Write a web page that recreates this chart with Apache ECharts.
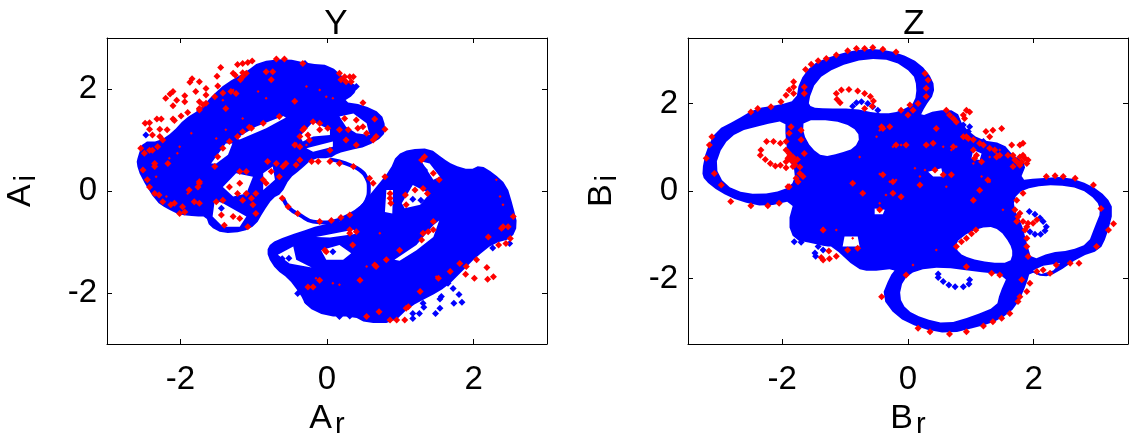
<!DOCTYPE html>
<html>
<head>
<meta charset="utf-8">
<style>
  html, body { margin: 0; background: #fff; }
  main { width: 1135px; height: 446px; }
</style>
<script src="https://cdn.jsdelivr.net/npm/echarts@6/dist/echarts.min.js"></script>
</head>
<body>
<main></main>
<script>
const ticksY = [-2, 0, 2]
const ticksZ = [-2, 0, 2]

// dense blue regions of Y, outlines
const blueYUpper = [[-2.58,.67],[-2.51,.97],[-2.29,.97],[-2.10,1.16],[-1.94,1.42],[-1.74,1.59],[-1.56,1.88],[-1.38,2.11],[-1.10,2.34],[-.92,2.54],[-.56,2.60],[-.24,2.50],[.04,2.47],[.26,2.18],[.42,2.05],[.36,1.88],[.22,1.75],[.49,1.69],[.74,1.52],[.80,1.26],[.77,1.07],[.54,.87],[.31,.80],[.15,.74],[.04,.64],[-.19,.64],[-.37,.41],[-.51,.25],[-.62,-.05],[-.74,-.14],[-.87,-.41],[-.97,-.67],[-1.15,-.80],[-1.42,-.83],[-1.60,-.70],[-1.65,-.50],[-1.79,-.50],[-2.01,-.47],[-2.19,-.34],[-2.33,-.21],[-2.54,.28],[-2.60,.54]]
const holesYUpper = [
  [[-1.24,1.03],[-.97,1.26],[-.60,1.47],[-.56,1.44],[-.83,1.23],[-1.19,1.01]],
  [[-1.58,.54],[-1.38,.93],[-1.29,.93],[-1.35,.71],[-1.51,.54]],
  [[-.37,1.07],[-.19,1.36],[.04,1.20],[.04,1.10],[-.19,1.07],[-.33,.97]],
  [[.17,1.46],[.36,1.52],[.54,1.33],[.58,1.10],[.40,1.13],[.26,1.26]],
  [[-.28,.84],[.08,.97],[.08,.87],[-.19,.77]],
  [[-1.53,-.18],[-1.42,-.24],[-1.10,-.50],[-1.19,-.70],[-1.42,-.70],[-1.56,-.50]],
  [[-1.42,.08],[-1.24,.35],[-1.01,.28],[-1.10,-.05],[-1.28,-.11]],
  [[-.87,.35],[-.74,.48],[-.71,.22],[-.87,.02]],
]
const blueYLower = [[-.81,-1.09],[-.69,-.96],[-.37,-.80],[-.10,-.67],[.26,-.57],[.49,-.24],[.67,.08],[.86,.41],[.95,.71],[1.13,.82],[1.40,.84],[1.58,.64],[1.72,.51],[1.95,.41],[2.09,.51],[2.27,.35],[2.45,.12],[2.54,-.31],[2.60,-.67],[2.52,-.93],[2.27,-1.03],[2.04,-1.29],[1.86,-1.55],[1.63,-1.88],[1.40,-2.07],[1.13,-2.27],[.90,-2.59],[.54,-2.59],[.36,-2.46],[-.01,-2.46],[-.28,-2.27],[-.37,-2.01],[-.53,-1.71],[-.69,-1.55],[-.81,-1.29]]
const holesYLower = [
  [[-.67,-1.25],[-.46,-1.09],[-.42,-1.35],[-.21,-1.50],[-.51,-1.42]],
  [[-.08,-1.16],[.17,-1.06],[.33,-1.22],[.22,-1.35],[-.01,-1.35]],
  [[-.15,-.90],[.36,-.76],[.40,-.84],[.04,-.91]],
  [[.81,.02],[.90,.02],[.89,-.44],[.79,-.41]],
  [[1.02,-.24],[1.17,.12],[1.40,-.05],[1.27,-.27],[1.06,-.34]],
  [[1.29,.58],[1.40,.54],[1.54,.28],[1.45,.22]],
  [[.92,-1.35],[1.22,-1.06],[1.45,-.67],[1.53,-.58],[1.45,-.90],[1.22,-1.16],[.99,-1.37]],
]
const ringY = [[.04,.62],[.17,.58],[.31,.51],[.45,.41],[.54,.25],[.57,.05],[.54,-.18],[.45,-.34],[.31,-.47],[.15,-.57],[-.01,-.62],[-.19,-.60],[-.37,-.47],[-.51,-.34],[-.60,-.14]]

const redY = [[-1.45,2.42],[-1.50,2.25],[-1.84,2.20],[-1.87,2.13],[-1.74,2.14],[-1.49,2.06],[-1.65,2.01],[-1.79,1.95],[-2.10,1.95],[-2.14,1.90],[-2.20,1.82],[-2.05,1.78],[-1.94,1.87],[-1.94,1.75],[-2.10,1.67],[-1.65,1.88],[-1.74,1.75],[-1.90,1.54],[-1.99,1.47],[-2.10,1.41],[-2.32,1.41],[-2.26,1.41],[-2.48,1.33],[-2.42,1.34],[-2.42,1.21],[-2.28,1.21],[-2.18,1.20],[-2.08,1.38],[-2.38,1.10],[-2.28,1.07],[-2.54,.84],[-2.24,1.00],
  [-1.22,2.48],[-1.15,2.50],[-1.08,2.52],[-1.02,2.55],[-1.15,2.32],[-1.25,2.27],[-1.18,2.18],[-1.10,2.31],[-.69,2.59],[-.58,2.59],[-.33,2.50],[.17,2.31],[.24,2.24],[.31,2.24],[.36,2.24],[.26,2.14],[.19,2.18],[.33,2.14],
  [-.83,2.34],[-.74,2.34],[-.76,2.18],[-.44,1.76],[-1.24,1.91],[-1.38,1.62],[-1.74,1.62],[-1.69,1.69],
  [.49,1.73],[.65,1.41],[.79,1.21],[.67,1.07],[.40,1.39],[.49,1.26],[.42,1.23],[.24,1.42],[.40,.90],[.26,1.00],
  [-.31,1.23],[-.26,1.10],[-.19,1.36],[-.10,1.33],[.01,1.23],[-.37,1.07],[-1.06,1.25],[-1.15,1.16],
  [-2.35,.48],[-1.74,.15],[-1.88,.02],[-1.74,-.24],[-2.42,.08],[-2.29,-.08],[-2.13,-.27],[-2.01,-.44],[-1.94,-.41],[-2.17,.54],[-2.38,.80],
  [-1.19,.38],[-1.10,.38],[-1.33,.08],[-1.19,.15],[-1.10,-.05],[-1.22,-.05],[-.81,.58],[-.69,.54],[-.87,.22],[-.76,.38],[-.60,.48],[-.42,.51],
  [-1.51,-.21],[-1.44,-.47],[-1.40,-.67],[-1.19,-.54],[-1.08,-.70],[-1.01,-.27],[-.97,-.44],
  [.36,.48],[.17,.54],[.04,.58],[-.12,.58],[.58,.25],[.63,.15],[.79,.28],[-.10,-.60],[.06,-.58],[.19,-.52],[-.40,-.44],[-.53,-.31],[-.61,-.14],[.31,-.47],[-.21,.58],
  [2.18,-1.50],[2.01,-1.71],[2.19,-1.73],[2.27,-1.68],[1.89,-1.63],[2.34,-1.06],[2.44,-1.03],[2.50,-.93],[2.38,-.73],[2.47,-.70],[2.20,-.90],[1.53,.22],[1.45,.35],[1.33,.67],[1.29,.61],[.86,-.14],[.86,-.05],[.87,-.24],[1.07,-.08],[1.20,.02],[1.31,.05],[1.37,-.05],[1.08,-.27],[1.45,-.76],[1.38,-.80],[1.29,-.96],[.31,-.83],[.40,-.80],[-.03,-1.16],[.35,-1.06],[.65,-1.45],[.45,-1.75],[-.19,-1.88],[1.68,-1.58],[1.52,-1.71],[1.27,-1.97],[1.08,-2.30],[1.06,-2.53],[.95,-2.53],[.71,-2.37],
  [-2.49,.74],[-2.42,.80],[-2.31,.87],[-2.35,.54],[-2.51,.41],[-2.45,.22],[-2.35,-.05],[-2.24,-.21],[-2.08,-.24],[-1.97,-.31],[-1.74,.18],[-1.76,.08],[-1.81,-.21],[-1.53,.48],[-1.49,.67],[-1.42,.84],[-1.33,.97],[-1.22,1.07],[-1.03,1.23],[-.87,1.33],[-.65,1.46],[-1.74,1.59],[-1.65,1.72],[-1.53,1.85],[-1.42,1.92],[-1.31,1.95],[-1.15,2.24],[-1.28,2.31],
  [-.33,1.20],[-.10,1.20],[-.24,1.00],[-.37,.87],[-.44,.90],[.04,.80],[.17,1.20],[.29,1.20],[.54,1.13],[.63,1.00],
  [-1.42,-.18],[-1.28,-.50],[-1.15,-.18],[-1.03,-.14],[-.97,-.05],[-.83,.15],[-.65,.28],[-.56,.54],[-.37,.61],
  [2.54,-.50],[2.40,-.70],[1.31,-.83],[1.45,-.60],[.99,-1.16],[-.01,-1.19],[.31,-.76],[-.26,-1.88],[-.10,-1.75],[2.04,-1.35],[1.90,-1.48],[1.81,-1.42],[.67,-1.48],[.81,-1.35],[.54,-2.46],[.86,-2.53],[1.11,-2.27]]
const redSpecksY = [[-.94,1.95],[-.83,1.82],[-1.51,1.03],[-1.38,1.20],[-1.15,1.42],[-1.74,.15],[-2.15,.64],[-2.01,.87],[-.42,.93],[-.28,.90],[-2.04,.74],[-1.85,1.13],[-2.33,.28],[-2.19,-.11],[-1.90,-.05],[-1.28,1.98],[-1.42,1.78],[-.10,1.98],[-.28,2.05],[.08,1.82],[-.01,1.85],[2.36,-.11],[2.40,-.27],[2.31,.22],[.17,-1.84],[.08,-1.81],[-.15,-1.71],[1.49,-1.68],[.54,-1.48],[.72,-.83]]
const bluePointsY = [[1.72,-1.91],[1.80,-2.03],[1.73,-2.20],[1.84,-2.18],[1.56,-2.07],[1.54,-2.12],[1.54,-2.30],[1.48,-2.40],[1.32,-2.28],[1.31,-2.20],[1.26,-2.40],[1.17,-2.40],[1.17,-2.50],[1.65,-1.81],[-.61,-1.33],[-.52,-1.32],[.08,-1.19],[1.17,-.16],[1.28,-.18],[1.33,.41],[-.40,-2.01],[-.27,-2.17],[.17,-2.46],[.31,-2.45],[-1.44,-.34],[-2.47,1.10],[-2.50,.86],[.40,2.05],[-.30,2.50],[.66,1.29],[2.26,-1.12],[2.49,-1.03]]

// Z: one connected blue shape with the loop openings as holes
const blueZ = [[-3.28,.44],[-3.21,.94],[-3.05,1.39],[-2.74,1.62],[-2.42,1.89],[-2.05,1.97],[-1.78,2.08],[-1.73,2.50],[-1.54,2.88],[-1.25,3.07],[-.88,3.22],[-.50,3.26],[-.13,3.15],[.19,2.92],[.40,2.54],[.42,2.23],[.27,1.93],[.19,1.70],[.45,1.85],[.77,1.85],[.88,1.47],[1.14,1.17],[1.51,1.09],[1.67,.82],[1.89,.63],[1.78,.25],[2.05,.29],[2.52,.33],[2.90,.14],[3.16,-.13],[3.27,-.43],[3.16,-1.04],[3.05,-1.35],[2.74,-1.50],[2.36,-1.88],[2.15,-1.97],[1.94,-1.84],[1.89,-2.11],[1.73,-2.64],[1.46,-2.95],[1.14,-3.10],[.66,-3.27],[.19,-3.14],[-.19,-2.87],[-.42,-2.42],[-.29,-1.96],[-.19,-1.77],[-.61,-1.84],[-.82,-1.77],[-1.20,-1.27],[-1.30,-1.27],[-1.51,-1.20],[-1.81,-1.12],[-1.91,-.74],[-1.81,-.21],[-2.26,-.36],[-2.68,-.24],[-3.00,-.02],[-3.24,.25]]
const holesZ = [
  [[-3.07,.56],[-2.95,1.05],[-2.71,1.36],[-2.31,1.51],[-1.95,1.62],[-1.95,1.24],[-1.91,.78],[-1.78,.40],[-1.86,.10],[-2.15,-.05],[-2.58,-.07],[-2.92,.14]],
  [[-1.66,1.62],[-1.20,1.62],[-.88,1.47],[-.76,1.24],[-.85,.98],[-1.09,.86],[-1.35,.78],[-1.54,.98],[-1.67,1.32]],
  [[-1.59,2.04],[-1.46,2.54],[-1.14,2.84],[-.66,3.03],[-.24,2.99],[.08,2.69],[.14,2.38],[.11,2.04],[-.03,1.89],[-.24,1.78],[-.50,1.78],[-.88,1.89],[-1.30,1.89],[-1.54,1.91]],
  [[1.73,-.05],[1.99,.10],[2.36,.14],[2.74,.06],[3.00,-.21],[3.07,-.47],[2.97,-.82],[2.87,-1.20],[2.58,-1.36],[2.26,-1.41],[1.97,-1.58],[1.89,-1.20],[1.81,-.74],[1.67,-.36]],
  [[.74,-1.20],[.98,-.93],[1.27,-.80],[1.46,-.89],[1.62,-1.20],[1.67,-1.42],[1.62,-1.64],[1.30,-1.64],[.98,-1.54],[.81,-1.42]],
  [[-.14,-2.42],[-.08,-2.03],[.13,-1.81],[.56,-1.74],[1.04,-1.84],[1.59,-1.92],[1.46,-2.34],[1.41,-2.64],[1.04,-2.86],[.61,-3.04],[.24,-2.91],[-.03,-2.72]],
  [[1.99,-1.82],[2.15,-1.71],[2.42,-1.65],[2.31,-1.82],[2.12,-1.90]],
  [[-.53,-.40],[-.37,-.43],[-.40,-.53],[-.53,-.53]],
  [[.32,.44],[.53,.52],[.56,.33],[.40,.33]],
  [[-1.01,-1.04],[-.80,-1.04],[-.77,-1.27],[-1.04,-1.27]],
  [[1.04,.94],[1.17,.86],[1.14,.71],[1.01,.75]],
]

const redZ = [[-2.34,.94],[-2.25,1.13],[-2.14,1.13],[-2.03,1.09],[-2.35,.82],[-2.27,.72],[-2.19,.63],[-2.11,.57],[-2.03,.59],
  [-1.94,1.13],[-1.94,.94],[-1.89,.86],[-1.83,.78],[-1.91,.75],[-1.81,.67],[-1.94,.67],[-1.83,.56],[-1.72,.40],[-1.78,.29],[-1.67,.33],[-1.75,.21],[-1.89,.10],[-1.94,.53],[-1.86,1.47],[-1.89,1.32],[-1.70,1.39],[-1.70,1.17],[-1.65,.86],[-1.88,.80],[-1.86,.70],[-1.80,.60],[-1.76,.72],[-1.72,.55],
  [-1.14,2.23],[-1.06,2.31],[-.94,2.32],[-.80,2.29],[-.69,2.23],[-.60,2.16],[-.55,2.06],[-1.13,2.10],[-1.08,2.02],[-.69,1.89],[-.57,1.94],
  [-1.63,2.78],[-1.54,2.90],[-1.43,2.98],[-1.30,3.03],[-1.14,3.11],[-.96,3.21],[-.82,3.26],[-.69,3.26],[-.56,3.28],[-.40,3.24],[-.19,3.18],[-1.82,2.50],[-1.82,2.38],[-1.89,2.31],[-1.94,2.19],[-1.82,2.23],[-2.02,2.04],[-1.65,2.38],[-1.65,2.23],
  [.32,2.54],[.27,2.69],[.29,2.35],[.29,2.16],[.16,2.00],[.03,1.97],[.00,1.74],[-.11,1.85],[.08,1.85],[-.29,1.47],[-.42,1.47],
  [-2.50,1.81],[-2.39,1.89],[-2.18,1.93],[-3.12,1.24],[-3.16,1.05],[-3.21,.75],[-3.08,.40],[-2.97,.14],[-2.82,-.24],[-2.50,-.34],[-2.23,-.34],[-2.05,-.28],[-1.91,.10],
  [.61,1.85],[.72,1.66],[.77,1.58],[.93,1.85],[.98,1.81],[.88,1.74],[.90,1.66],[.88,1.24],[.96,1.20],[1.04,.94],[1.09,.82],[1.24,1.36],[1.35,1.39],[1.49,1.43],[1.30,1.24],[1.20,1.05],[1.38,.94],[1.46,.82],[1.65,1.05],[1.78,1.05],[1.83,1.09],[1.67,.82],[1.78,.78],[1.86,.75],[1.91,.71],[1.89,.63],[1.81,.67],[1.73,.67],[.45,1.43],[.29,1.05],[.40,1.09],[.72,1.01],[1.06,.75],[1.27,.25],[1.14,.02],[1.04,-.21],[-.40,.37],[-.24,.21],[-.19,1.05],[-.03,1.05],[.19,.14],[.43,.48],[.56,.37],[.69,.37],[-.40,1.43],[-.45,-.43],[-.24,-.05],[-.11,-.13],[-.72,-.05],[-.88,.18],
  [.66,1.74],[.93,1.24],[1.04,1.17],[1.14,1.09],[1.30,.98],[1.41,.78],[1.17,.67],[1.78,.59],[1.67,.56],[1.83,.82],[1.70,.71],[1.59,.82],
  [2.20,.33],[2.34,.35],[2.47,.33],[2.66,.29],[2.95,.14],[3.07,-.40],[3.27,-.75],[3.19,-.89],[3.00,-1.27],[1.73,-.21],[1.83,-.05],[1.70,-.43],[1.75,-.59],[1.83,-.70],[1.91,-.74],[1.86,-.89],[1.89,-1.08],[1.99,-.74],[2.05,-.66],[1.89,-1.27],[1.91,-1.50],[1.78,-.51],[1.73,-.70],[1.89,-.82],
  [2.15,-1.81],[2.36,-1.69],[2.05,-1.84],[2.26,-1.88],[2.58,-1.65],[2.72,-1.65],[1.81,-2.03],[1.94,-2.11],[1.89,-2.30],[1.78,-2.42],[1.75,-2.53],[1.62,-2.80],[1.49,-2.91],[1.35,-2.99],[1.20,-3.09],[.93,-3.22],[.66,-3.27],[.35,-3.22],[.16,-3.14],[-.42,-2.42],
  [.77,-1.27],[.85,-1.16],[.93,-1.08],[1.01,-.98],[1.08,-.89],
  [-1.35,-1.58],[-1.38,-1.52],[-1.25,-1.55],[-1.14,-1.49],[-1.26,-1.37],[-1.35,-.89],[-.96,-1.35],[-.80,-1.31],
  [.93,-1.73],[1.33,-1.88],[1.46,-1.92],[-.03,-1.92]]
const redSpecksZ = [[-.45,.39],[-.39,.39],[-.29,.21],[-.19,.25],[-.11,1.05],[-.24,1.01],[-.50,1.24],[-.45,1.39],[-.29,1.47],[.11,.52],[.19,.33],[.27,.48],[.32,1.05],[.45,1.43],[.56,1.01],[.69,.94],[.77,1.01],[1.04,.63],[1.17,.33],[1.30,.21],[1.30,.78],[1.41,.86],[1.46,.94],[.61,.10],[-.35,-.09],[-.11,-.13],[1.06,-.21],[1.51,-.43],[-1.35,-.85],[-1.14,-.89],[-.88,-1.08],[-.45,-.28],[-.77,.78],[.45,-1.35],[.93,-1.73],[.08,-1.69]]
const bluePointsZ = [[-.82,2.02],[-.74,2.04],[-.64,2.00],[-.56,1.93],[-.48,1.85],[-.88,1.94],
  [.48,-1.90],[.48,-1.98],[.56,-2.07],[.65,-2.15],[.75,-2.19],[.88,-2.19],[.97,-2.13],[.98,-2.03],
  [1.93,-.47],[2.02,-.53],[2.10,-.62],[2.15,-.70],[2.20,-.82],[2.18,-.91],[2.11,-.99],[2.02,-.99],[1.94,-.93],
  [-1.81,-.89],[-1.65,-.99],[-1.73,-1.06],[-1.81,-1.16],[-1.70,-1.17],[-1.51,-1.10],[-1.38,-1.16],[-1.43,-1.27],[-1.35,-1.35],[-1.48,-1.42],[-1.47,-1.49],[-.77,-1.65],
  [.88,1.51],[.98,1.47],[.96,1.36],[1.20,1.13]]

const font = 'Liberation Sans'
const BLUE = '#0000ff'
const RED = '#ff0000'

function area(ring) {
  let s = 0
  ring.forEach((p, i) => {
    const q = ring[(i + 1) % ring.length]
    s += p[0] * q[1] - q[0] * p[1]
  })
  return s
}

// corner cutting for the drawn outline, same job as smooth: true on a line
function rounded(ring) {
  if (ring.length < 9) return ring
  const out = []
  ring.forEach((p, i) => {
    const q = ring[(i + 1) % ring.length]
    out.push([p[0] * 0.75 + q[0] * 0.25, p[1] * 0.75 + q[1] * 0.25])
    out.push([p[0] * 0.25 + q[0] * 0.75, p[1] * 0.25 + q[1] * 0.75])
  })
  return out
}

// cut each hole into the outline so a single polygon keeps it open
function cutHoles(outer, holes) {
  let pts = outer.slice()
  const sign = Math.sign(area(outer))
  for (const h of holes) {
    const hole = Math.sign(area(h)) === sign ? h.slice().reverse() : h.slice()
    let best = [0, 0, Infinity]
    pts.forEach((p, i) => hole.forEach((q, j) => {
      const d = (p[0] - q[0]) ** 2 + (p[1] - q[1]) ** 2
      if (d < best[2]) best = [i, j, d]
    }))
    const [i, j] = best
    const loop = hole.slice(j).concat(hole.slice(0, j + 1))
    pts = pts.slice(0, i + 1).concat(loop, pts.slice(i))
  }
  return pts
}

function region(axis, outer, holes) {
  const pts = cutHoles(rounded(outer), holes.map((h) => rounded(h)))
  return {
    type: 'custom',
    coordinateSystem: 'cartesian2d',
    xAxisIndex: axis * 2,
    yAxisIndex: axis * 2,
    silent: true,
    z: 3,
    data: [0],
    renderItem: (params, api) => ({
      type: 'polygon',
      shape: { points: pts.map((p) => api.coord(p)) },
      style: { fill: BLUE },
    }),
  }
}

function points(axis, data, color, z, size) {
  return {
    type: 'scatter',
    xAxisIndex: axis * 2,
    yAxisIndex: axis * 2,
    symbol: 'diamond',
    symbolSize: size,
    silent: true,
    z,
    itemStyle: { color, opacity: 1 },
    data,
  }
}

const nameStyle = {
  color: '#000',
  fontFamily: font,
  fontSize: 34,
  rich: { sub: { fontFamily: font, fontSize: 29, verticalAlign: 'bottom', padding: [12, 0, 0, 3] } },
}

function axisBase(grid, min, max, ticks) {
  return {
    type: 'value', gridIndex: grid, min, max,
    axisLine: { show: true, onZero: false, lineStyle: { color: '#000', width: 1 } },
    axisTick: { show: true, inside: true, length: 5, customValues: ticks, lineStyle: { color: '#000' } },
    splitLine: { show: false },
  }
}

function xAxes(grid, min, max, ticks, name) {
  const base = axisBase(grid, min, max, ticks)
  return [
    {
      ...base,
      position: 'bottom',
      axisLabel: { customValues: ticks, color: '#000', fontFamily: font, fontSize: 33, margin: 19 },
      name: name + '{sub|r}',
      nameLocation: 'middle',
      nameGap: 54,
      nameTextStyle: nameStyle,
    },
    { ...base, position: 'top', axisLabel: { show: false } },
  ]
}

function yAxes(grid, min, max, ticks, name) {
  const base = axisBase(grid, min, max, ticks)
  return [
    {
      ...base,
      position: 'left',
      axisLabel: { customValues: ticks, color: '#000', fontFamily: font, fontSize: 33, margin: 10 },
      name: name + '{sub|i}',
      nameLocation: 'middle',
      nameGap: 66,
      nameTextStyle: nameStyle,
    },
    { ...base, position: 'right', axisLabel: { show: false } },
  ]
}

const chart = echarts.init(document.querySelector('main'), null, { renderer: 'canvas' })
chart.setOption({
  animation: false,
  backgroundColor: '#fff',
  title: [
    { text: 'Y', left: 331, top: 2, textAlign: 'center', textStyle: { color: '#000', fontFamily: font, fontSize: 35, fontWeight: 'normal' } },
    { text: 'Z', left: 909, top: 2, textAlign: 'center', textStyle: { color: '#000', fontFamily: font, fontSize: 35, fontWeight: 'normal' } },
  ],
  grid: [
    { left: 107, top: 38, width: 440, height: 306, outerBoundsMode: 'none' },
    { left: 688, top: 38, width: 440, height: 306, outerBoundsMode: 'none' },
  ],
  xAxis: [...xAxes(0, -3, 3, ticksY, 'A'), ...xAxes(1, -3.5, 3.5, ticksZ, 'B')],
  yAxis: [...yAxes(0, -3, 3, ticksY, 'A'), ...yAxes(1, -3.5, 3.5, ticksZ, 'B')],
  series: [
    region(0, blueYUpper, holesYUpper),
    region(0, blueYLower, holesYLower),
    {
      type: 'line',
      xAxisIndex: 0,
      yAxisIndex: 0,
      silent: true,
      showSymbol: false,
      smooth: true,
      z: 3,
      lineStyle: { color: BLUE, width: 4 },
      data: ringY,
    },
    points(0, bluePointsY, BLUE, 4, 7),
    points(0, redY, RED, 5, 7),
    points(0, redSpecksY, RED, 5, 3),
    region(1, blueZ, holesZ),
    points(1, bluePointsZ, BLUE, 4, 7),
    points(1, redZ, RED, 5, 7),
    points(1, redSpecksZ, RED, 5, 3),
  ],
})
</script>
</body>
</html>
